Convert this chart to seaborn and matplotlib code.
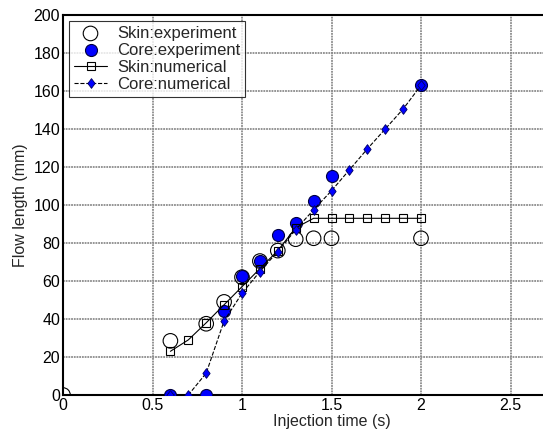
import matplotlib
matplotlib.use('Agg')
import matplotlib.pyplot as plt
import seaborn as sns

# experimental and simulated flow length data
skin_exp_t = [0, 0.6, 0.8, 0.9, 1.0, 1.1, 1.2, 1.3, 1.4, 1.5, 2.0]
skin_exp_len = [0, 28.5, 37.5, 49, 62, 70.5, 76, 82, 82.5, 82.5, 82.5]

core_exp_t = [0.6, 0.8, 0.9, 1.0, 1.1, 1.2, 1.3, 1.4, 1.5, 2.0]
core_exp_len = [0, 0, 44, 62.5, 70.5, 84, 90.5, 102, 115.5, 163]

skin_num_t = [0.6, 0.7, 0.8, 0.9, 1.0, 1.1, 1.2, 1.3, 1.4, 1.5, 1.6, 1.7, 1.8, 1.9, 2.0]
skin_num_len = [23, 29, 38, 47.5, 57, 66.5, 76, 88, 93, 93, 93, 93, 93, 93, 93]

core_num_t = [0.6, 0.7, 0.8, 0.9, 1.0, 1.1, 1.2, 1.3, 1.4, 1.5, 1.6, 1.7, 1.8, 1.9, 2.0]
core_num_len = [0, 0, 11.5, 39, 53.5, 65, 75.5, 87, 97.5, 107.5, 118.5, 129.5, 140, 150.5, 163]

x_ticks = [0, 0.5, 1, 1.5, 2, 2.5]
x_labels = ['0', '0.5', '1', '1.5', '2', '2.5']

sns.set_theme(style='whitegrid')
plt.rcParams['font.family'] = ['Liberation Sans', 'DejaVu Sans']

# matlab style diamond, a bit taller than wide
diamond = [(0, -1), (0.75, 0), (0, 1), (-0.75, 0), (0, -1)]

fig = plt.figure(figsize=(5.43, 4.37), dpi=100)
# axes run past the right edge (x up to 3), like the cropped original
ax = fig.add_axes([63 / 543, 42 / 437, 537 / 543, 380 / 437])

sns.scatterplot(x=skin_exp_t, y=skin_exp_len, ax=ax, marker='o', s=110,
                facecolor='none', edgecolor='black', linewidth=0.8,
                label='Skin:experiment', zorder=3)
sns.scatterplot(x=core_exp_t, y=core_exp_len, ax=ax, marker='o', s=75,
                color='#0000ff', edgecolor='#000040', linewidth=0.8,
                label='Core:experiment', zorder=3)
sns.lineplot(x=skin_num_t, y=skin_num_len, ax=ax, color='black', linewidth=0.8,
             marker='s', markersize=6, markerfacecolor='none',
             markeredgecolor='black', markeredgewidth=0.8,
             label='Skin:numerical', zorder=4)
sns.lineplot(x=core_num_t, y=core_num_len, ax=ax, color='black', linewidth=0.8,
             linestyle='--', marker=diamond, markersize=7, markerfacecolor='#0000ff',
             markeredgecolor='#000060', markeredgewidth=0.6,
             label='Core:numerical', zorder=5)

ax.set_xlim(0, 3)
ax.set_ylim(0, 200)
ax.set_xticks(x_ticks)
ax.set_xticklabels(x_labels)
ax.set_yticks(range(0, 201, 20))
ax.tick_params(labelsize=11.5, colors='black', length=0, pad=2)
ax.set_xlabel('Injection time (s)', fontsize=11.5, labelpad=1)
ax.set_ylabel('Flow length (mm)', fontsize=11.5, labelpad=4)

ax.grid(True, color='#8c8c8c', linestyle=(0, (1, 0.5)), linewidth=1.3)
ax.set_facecolor('white')
for sp in ax.spines.values():
    sp.set_color('black')
    sp.set_linewidth(1.5)

leg = ax.legend(loc='upper left', fontsize=12, frameon=True, fancybox=False,
                borderaxespad=0.35, handlelength=2.0, handletextpad=0.6,
                labelspacing=0.12, borderpad=0.3)
leg.get_frame().set_edgecolor('black')
leg.get_frame().set_linewidth(0.8)

fig.savefig('out.png', dpi=100)
